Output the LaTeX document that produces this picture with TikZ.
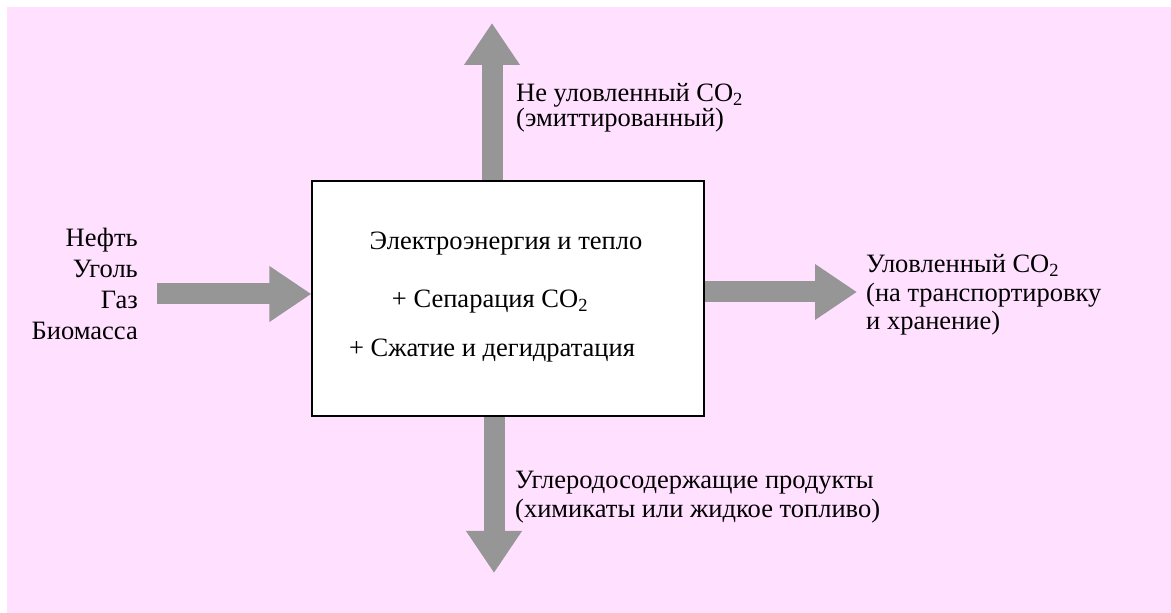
\documentclass[tikz,border=0pt]{standalone}
\usepackage{fontspec}
\setmainfont{Liberation Serif}
\usepackage{tikz}
\usetikzlibrary{arrows.meta,positioning}

\definecolor{bgpink}{RGB}{255,225,255}
\definecolor{flowgray}{RGB}{150,150,150}

\begin{document}
\begin{tikzpicture}[x=1pt,y=1pt,
	flow/.style={draw=flowgray,line width=21pt,-{Triangle[length=42pt,width=53pt,fill=flowgray]}},
	block/.style={draw,line width=1.2pt,fill=white,minimum width=392pt,minimum height=235pt,inner sep=0pt},
	txt/.style={font=\fontsize{26.5}{26.5}\selectfont,inner sep=0pt}]
\useasboundingbox (0,0) rectangle (1171,613);
\fill	[bgpink]	(7,0) rectangle (1171,606);

\node	[block]	(box)	at (508,314.5)	{};
\node	[txt,anchor=base]	(power)	at (506,363)	{Электроэнергия и тепло};
\node	[txt,anchor=base]	(sep)	at (490,305)	{+ Сепарация CO\textsubscript{2}};
\node	[txt,anchor=base]	(comp)	at (492,256)	{+ Сжатие и дегидратация};

\coordinate	(up)	at (492,590);
\coordinate	(down)	at (494,40);
\coordinate	(in)	at (157,319);
\coordinate	(out)	at (857,321);

\node	[txt,anchor=base east,align=right,font=\fontsize{26.5}{31}\selectfont]	(fuel)	at (138,273)
	{Нефть\\Уголь\\Газ\\Биомасса};
\node	[txt,anchor=base west,align=left,font=\fontsize{26.5}{24}\selectfont]	(emit)	at (516,486)
	{Не уловленный CO\textsubscript{2}\\(эмиттированный)};
\node	[txt,anchor=base west,align=left,font=\fontsize{26.5}{28.5}\selectfont]	(capt)	at (866,283)
	{Уловленный CO\textsubscript{2}\\(на транспортировку\\и хранение)};
\node	[txt,anchor=base west,align=left,font=\fontsize{26.5}{29}\selectfont]	(prod)	at (515,95)
	{Углеродосодержащие продукты\\(химикаты или жидкое топливо)};

\draw	[flow]	(in)	--	(in -| box.west);
\draw	[flow]	(box.north -| up)	--	(up);
\draw	[flow]	(box.east |- out)	--	(out);
\draw	[flow]	(box.south -| down)	--	(down);
\end{tikzpicture}
\end{document}
